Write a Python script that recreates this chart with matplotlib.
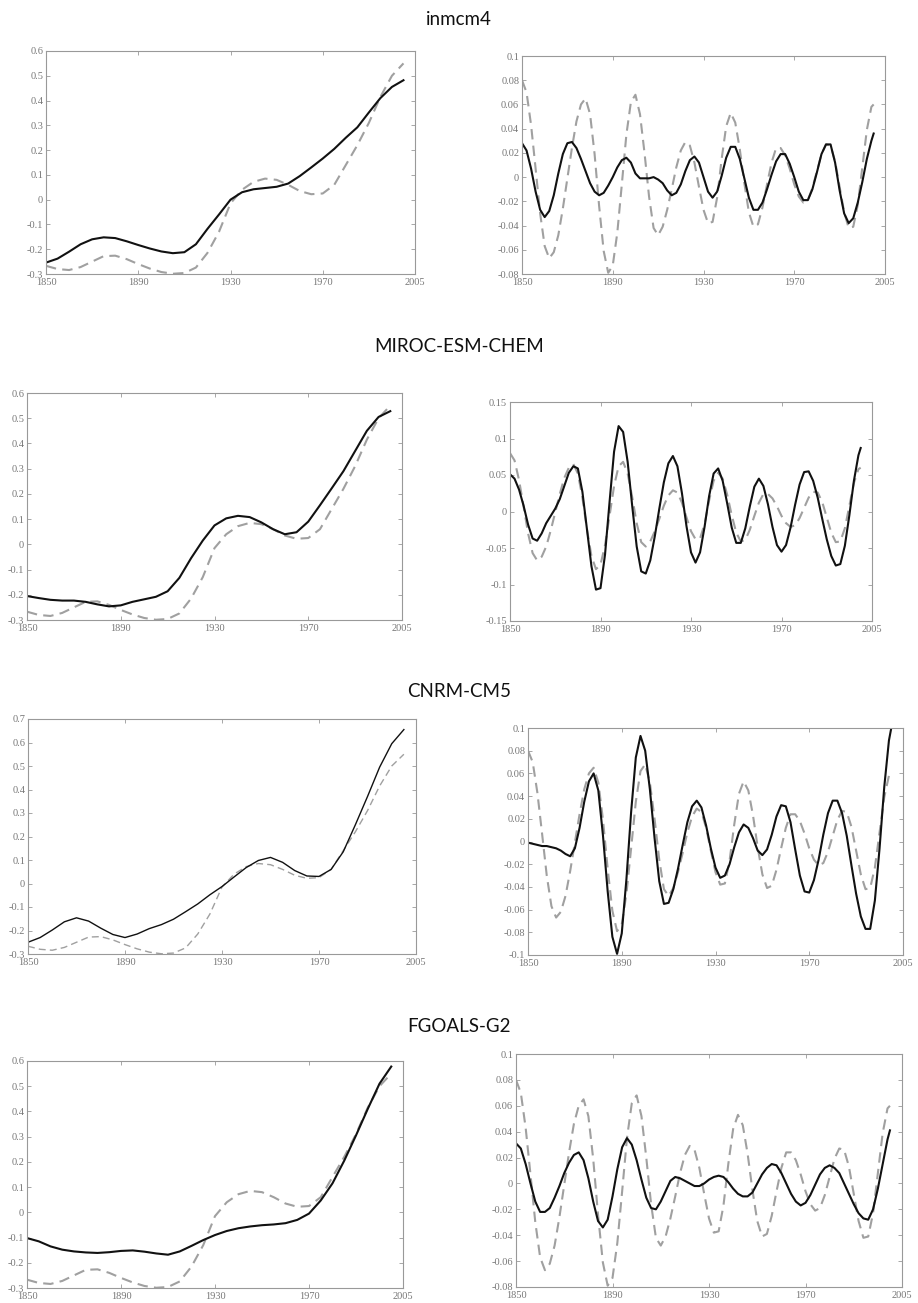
import matplotlib
matplotlib.use("Agg")
import matplotlib.pyplot as plt
from matplotlib.ticker import MultipleLocator, FuncFormatter

plt.rcParams['font.family'] = ['Liberation Serif', 'DejaVu Serif']

W, H = 918, 1303

models = ["inmcm4", "MIROC-ESM-CHEM", "CNRM-CM5", "FGOALS-G2"]

# x axis: 1850..2010 drawn, last tick labelled 2005 as in the original figure
x_ticks = [1850, 1890, 1930, 1970, 2010]
x_tick_labels = ["1850", "1890", "1930", "1970", "2005"]

# ---- long-term trend (left column), every 5 years ----
years_trend = list(range(1850, 2006, 5))

obs_trend = [-0.267, -0.280, -0.284, -0.272, -0.250, -0.228, -0.226, -0.240,
             -0.260, -0.278, -0.292, -0.299, -0.296, -0.274, -0.215, -0.130,
             -0.015, 0.040, 0.072, 0.085, 0.080, 0.060, 0.035, 0.022,
             0.025, 0.060, 0.140, 0.220, 0.310, 0.415, 0.500, 0.550]

trend_inmcm4 = [-0.254, -0.238, -0.210, -0.180, -0.160, -0.152, -0.155, -0.168,
                -0.183, -0.197, -0.209, -0.216, -0.212, -0.180, -0.118, -0.060,
                0.000, 0.030, 0.042, 0.047, 0.052, 0.065, 0.095, 0.130,
                0.166, 0.205, 0.250, 0.292, 0.352, 0.410, 0.455, 0.482]

trend_miroc = [-0.205, -0.213, -0.220, -0.223, -0.223, -0.228, -0.238, -0.246,
               -0.242, -0.228, -0.218, -0.208, -0.186, -0.133, -0.055, 0.015,
               0.075, 0.103, 0.113, 0.108, 0.087, 0.060, 0.040, 0.048,
               0.090, 0.155, 0.222, 0.290, 0.370, 0.450, 0.505, 0.528]

trend_cnrm = [-0.250, -0.230, -0.198, -0.163, -0.146, -0.160, -0.190, -0.217,
              -0.230, -0.215, -0.192, -0.175, -0.152, -0.120, -0.087, -0.048,
              -0.013, 0.028, 0.068, 0.098, 0.111, 0.090, 0.055, 0.032,
              0.030, 0.060, 0.135, 0.250, 0.370, 0.495, 0.595, 0.655]

trend_fgoals = [-0.102, -0.115, -0.135, -0.148, -0.155, -0.159, -0.161, -0.158,
                -0.153, -0.151, -0.156, -0.163, -0.168, -0.155, -0.133, -0.110,
                -0.090, -0.074, -0.063, -0.056, -0.051, -0.048, -0.043, -0.030,
                -0.005, 0.047, 0.115, 0.205, 0.305, 0.410, 0.510, 0.578]

# ---- multidecadal oscillation (right column), every 2 years ----
years_osc = list(range(1850, 2005, 2)) + [2005]

obs_osc = [0.080, 0.070, 0.043, 0.007, -0.030, -0.057, -0.067, -0.062, -0.048, -0.026,
           -0.001, 0.024, 0.046, 0.060, 0.065, 0.052, 0.019, -0.024, -0.061, -0.079,
           -0.073, -0.046, -0.006, 0.035, 0.062, 0.068, 0.052, 0.020, -0.016, -0.042,
           -0.048, -0.041, -0.027, -0.010, 0.008, 0.022, 0.029, 0.026, 0.012, -0.008,
           -0.027, -0.038, -0.037, -0.017, 0.015, 0.042, 0.053, 0.045, 0.023, -0.005,
           -0.029, -0.041, -0.039, -0.025, -0.006, 0.012, 0.024, 0.024, 0.018, 0.007,
           -0.006, -0.016, -0.021, -0.019, -0.009, 0.005, 0.019, 0.027, 0.026, 0.013,
           -0.008, -0.029, -0.042, -0.041, -0.023, 0.008, 0.039, 0.058, 0.060]

osc_inmcm4 = [0.028, 0.022, 0.007, -0.012, -0.027, -0.033, -0.028, -0.015, 0.003, 0.019,
              0.028, 0.029, 0.024, 0.015, 0.005, -0.005, -0.012, -0.015, -0.013, -0.007,
              0.000, 0.008, 0.014, 0.016, 0.012, 0.003, -0.001, -0.001, -0.001, 0.000,
              -0.002, -0.005, -0.011, -0.015, -0.013, -0.006, 0.005, 0.014, 0.017, 0.012,
              0.000, -0.012, -0.017, -0.012, 0.001, 0.016, 0.025, 0.025, 0.015, -0.001,
              -0.017, -0.027, -0.027, -0.021, -0.010, 0.002, 0.013, 0.019, 0.019, 0.011,
              0.000, -0.012, -0.019, -0.019, -0.010, 0.004, 0.019, 0.027, 0.027, 0.012,
              -0.011, -0.030, -0.038, -0.034, -0.021, -0.004, 0.015, 0.030, 0.036]

osc_miroc = [0.051, 0.045, 0.030, 0.008, -0.018, -0.037, -0.040, -0.030, -0.016, -0.006,
             0.004, 0.017, 0.035, 0.053, 0.062, 0.059, 0.027, -0.024, -0.075, -0.107,
             -0.105, -0.059, 0.013, 0.082, 0.117, 0.109, 0.068, 0.008, -0.048, -0.082,
             -0.085, -0.067, -0.034, 0.004, 0.040, 0.066, 0.076, 0.062, 0.025, -0.020,
             -0.056, -0.070, -0.056, -0.021, 0.021, 0.052, 0.059, 0.042, 0.011, -0.022,
             -0.043, -0.043, -0.023, 0.007, 0.034, 0.045, 0.035, 0.010, -0.021, -0.046,
             -0.055, -0.046, -0.022, 0.009, 0.037, 0.054, 0.055, 0.042, 0.019, -0.010,
             -0.038, -0.061, -0.074, -0.072, -0.047, -0.005, 0.042, 0.077, 0.087]

osc_cnrm = [-0.001, -0.002, -0.003, -0.004, -0.004, -0.005, -0.006, -0.008, -0.011, -0.013,
            -0.006, 0.012, 0.035, 0.053, 0.060, 0.045, 0.005, -0.044, -0.084, -0.099,
            -0.081, -0.033, 0.026, 0.074, 0.093, 0.080, 0.046, 0.003, -0.035, -0.055,
            -0.054, -0.042, -0.024, -0.003, 0.017, 0.031, 0.036, 0.030, 0.014, -0.006,
            -0.023, -0.032, -0.030, -0.020, -0.005, 0.008, 0.015, 0.012, 0.003, -0.008,
            -0.012, -0.007, 0.006, 0.022, 0.032, 0.031, 0.017, -0.007, -0.030, -0.044,
            -0.045, -0.034, -0.016, 0.006, 0.025, 0.036, 0.036, 0.025, 0.005, -0.021,
            -0.046, -0.066, -0.077, -0.077, -0.052, -0.006, 0.048, 0.089, 0.100]

osc_fgoals = [0.031, 0.027, 0.015, 0.000, -0.014, -0.022, -0.022, -0.019, -0.011, -0.002,
              0.008, 0.016, 0.022, 0.024, 0.018, 0.004, -0.014, -0.029, -0.034, -0.028,
              -0.010, 0.011, 0.028, 0.035, 0.030, 0.018, 0.003, -0.011, -0.019, -0.020,
              -0.014, -0.006, 0.002, 0.005, 0.004, 0.002, 0.000, -0.002, -0.002, 0.000,
              0.003, 0.005, 0.006, 0.005, 0.001, -0.004, -0.008, -0.010, -0.010, -0.007,
              0.000, 0.007, 0.012, 0.015, 0.014, 0.008, 0.000, -0.008, -0.014, -0.017,
              -0.015, -0.009, -0.001, 0.007, 0.012, 0.014, 0.012, 0.008, 0.000, -0.008,
              -0.016, -0.023, -0.027, -0.028, -0.020, -0.004, 0.015, 0.034, 0.041]

trend_models = [trend_inmcm4, trend_miroc, trend_cnrm, trend_fgoals]
osc_models = [osc_inmcm4, osc_miroc, osc_cnrm, osc_fgoals]

# y limits and tick step per row
trend_ylims = [(-0.3, 0.6), (-0.3, 0.6), (-0.3, 0.7), (-0.3, 0.6)]
osc_ylims = [(-0.08, 0.1), (-0.15, 0.15), (-0.1, 0.1), (-0.08, 0.1)]
osc_steps = [0.02, 0.05, 0.02, 0.02]

# axes boxes in pixels: (x0, x1, y_top, y_bottom)
trend_boxes = [(46, 415, 51, 274), (27, 402, 393, 620), (28, 416, 719, 954), (27, 403, 1061, 1288)]
osc_boxes = [(522, 885, 56, 274), (510, 872, 402, 621), (528, 903, 728, 955), (516, 902, 1054, 1287)]
title_baselines = [25, 352, 697, 1032]

# line widths per row (CNRM panels drawn thinner on the left)
trend_lw = [1.5, 1.5, 1.0, 1.5]


def to_fig(b):
    x0, x1, y0, y1 = b
    return [x0 / W, 1 - y1 / H, (x1 - x0) / W, (y1 - y0) / H]


def fmt(v, pos):
    v = round(v, 4)
    if v == 0:
        return "0"
    return f"{v:g}"


def style_axes(ax, ylim, step):
    ax.set_xlim(1850, 2010)
    ax.set_xticks(x_ticks)
    ax.set_xticklabels(x_tick_labels)
    ax.set_ylim(*ylim)
    ax.yaxis.set_major_locator(MultipleLocator(step))
    ax.yaxis.set_major_formatter(FuncFormatter(fmt))
    for spine in ax.spines.values():
        spine.set_color('#999999')
        spine.set_linewidth(0.8)
    ax.tick_params(direction='in', top=True, right=True, length=3, width=0.6,
                   color='#999999', labelsize=7.5, labelcolor='#777777')
    ax.tick_params(axis='x', pad=3)
    ax.tick_params(axis='y', pad=2)


fig = plt.figure(figsize=(W / 100, H / 100), dpi=100)

for i, name in enumerate(models):
    fig.text(0.5, 1 - title_baselines[i] / H, name, ha='center', va='baseline',
             fontsize=13.5, family=['Lato', 'DejaVu Sans'], color='#111111')

    ax = fig.add_axes(to_fig(trend_boxes[i]))
    lw = trend_lw[i]
    ax.plot(years_trend, obs_trend, color='#a0a0a0', lw=lw, dashes=(5, 3))
    ax.plot(years_trend, trend_models[i], color='#111111', lw=lw,
            solid_joinstyle='round')
    style_axes(ax, trend_ylims[i], 0.1)

    ax = fig.add_axes(to_fig(osc_boxes[i]))
    ax.plot(years_osc, obs_osc, color='#a0a0a0', lw=1.5, dashes=(5, 3))
    ax.plot(years_osc, osc_models[i], color='#111111', lw=1.5,
            solid_joinstyle='round')
    style_axes(ax, osc_ylims[i], osc_steps[i])

fig.savefig("out.png", dpi=100)
